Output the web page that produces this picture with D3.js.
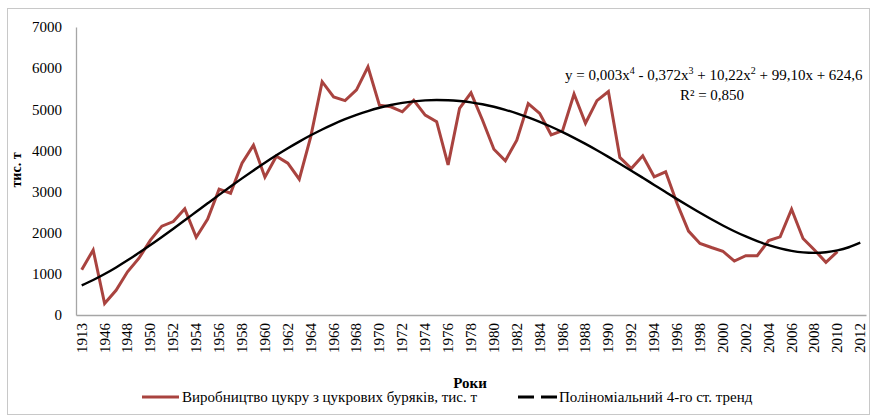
<!DOCTYPE html>
<html>
<head>
<meta charset="utf-8">
<script src="https://cdn.jsdelivr.net/npm/d3@7"></script>
<style>
  body { margin: 0; background: #fff; }
  svg text { font-family: "Liberation Serif", "Times New Roman", "DejaVu Serif", serif; fill: #000; }
</style>
</head>
<body>
<svg id="chart" width="875" height="419"></svg>
<script>
// categories: 1913, one pre-war year, then 1946..2012
var years = ["1913", "1940"];
for (var yy = 1946; yy <= 2012; yy++) years.push(String(yy));

// sugar production from sugar beet, thousand t (1913 .. 2010)
var sugar = [1100, 1580, 280, 600, 1050, 1380, 1820, 2160, 2270, 2580,
             1890, 2330, 3060, 2960, 3690, 4130, 3350, 3860, 3690, 3300,
             4330, 5670, 5300, 5210, 5470, 6030, 5100, 5060, 4940, 5220,
             4860, 4700, 3650, 5020, 5400, 4740, 4030, 3750, 4250, 5140,
             4900, 4380, 4480, 5370, 4660, 5210, 5430, 3830, 3560, 3870,
             3360, 3480, 2710, 2040, 1740, 1640, 1550, 1310, 1440, 1440,
             1810, 1900, 2570, 1860, 1580, 1280, 1540];

var yTicks = [0, 1000, 2000, 3000, 4000, 5000, 6000, 7000];
var xLabels = years.filter(function(d, i) { return i % 2 == 0; });

var lineColor = "#a9433f";
var serif = '"Liberation Serif", "Times New Roman", "DejaVu Serif", serif';

var svg = d3.select("#chart");
var plotL = 76, plotR = 866, plotT = 27, plotB = 315;

// frame round the chart
svg.append("rect")
  .attr("x", 7.5).attr("y", 8.5)
  .attr("width", 862).attr("height", 406)
  .attr("fill", "none")
  .attr("stroke", "#c8c8c8");

var x = d3.scaleBand().domain(years).range([plotL, plotR]).padding(0);
var y = d3.scaleLinear().domain([0, 7000]).range([plotB, plotT]);
function cx(d) { return x(d) + x.bandwidth() / 2; }

// y axis
var yAxis = svg.append("g")
  .attr("transform", "translate(" + plotL + ",0)")
  .call(d3.axisLeft(y).tickValues(yTicks).tickFormat(d3.format("d"))
        .tickSize(0).tickPadding(14));
yAxis.attr("font-family", null);
yAxis.select(".domain").attr("stroke", "#a6a6a6").attr("stroke-width", 1.3);
yAxis.selectAll("text")
  .style("font-family", serif).style("font-size", "15px");

// x axis
var xAxis = svg.append("g")
  .attr("transform", "translate(0," + plotB + ")")
  .call(d3.axisBottom(x).tickValues(xLabels).tickSize(0).tickPadding(0));
xAxis.attr("font-family", null);
xAxis.select(".domain").attr("stroke", "#a6a6a6").attr("stroke-width", 1.3);
xAxis.selectAll("text")
  .style("font-family", serif).style("font-size", "15px")
  .attr("text-anchor", "end")
  .attr("transform", "rotate(-90)")
  .attr("x", -8).attr("y", 0).attr("dy", "0.33em");

// axis titles
svg.append("text")
  .attr("transform", "translate(21,170) rotate(-90)")
  .attr("text-anchor", "middle")
  .style("font-family", serif)
  .style("font-size", "14px").style("font-weight", "bold")
  .text("тис. т");

svg.append("text")
  .attr("x", 470).attr("y", 388)
  .attr("text-anchor", "middle")
  .style("font-family", serif)
  .style("font-size", "15px").style("font-weight", "bold")
  .text("Роки");

// 4th degree polynomial trend by least squares (x = 1..n, as in Excel)
function polyFit(vals, deg) {
  var n = vals.length, mid = (n + 1) / 2, sc = (n - 1) / 2;
  var m = deg + 1, A = [], b = [];
  for (var r = 0; r < m; r++) { A.push(new Array(m).fill(0)); b.push(0); }
  vals.forEach(function(v, i) {
    var t = (i + 1 - mid) / sc;
    for (var r = 0; r < m; r++) {
      b[r] += v * Math.pow(t, r);
      for (var c = 0; c < m; c++) A[r][c] += Math.pow(t, r + c);
    }
  });
  for (var k = 0; k < m; k++) {
    for (var r = k + 1; r < m; r++) {
      var f = A[r][k] / A[k][k];
      for (var c = k; c < m; c++) A[r][c] -= f * A[k][c];
      b[r] -= f * b[k];
    }
  }
  var coef = new Array(m).fill(0);
  for (var r = m - 1; r >= 0; r--) {
    var s = b[r];
    for (var c = r + 1; c < m; c++) s -= A[r][c] * coef[c];
    coef[r] = s / A[r][r];
  }
  return function(xv) {
    var t = (xv - mid) / sc, s = 0;
    for (var r = 0; r < m; r++) s += coef[r] * Math.pow(t, r);
    return s;
  };
}
var trendFn = polyFit(sugar, 4);
var trend = years.map(function(d, i) { return { year: d, v: trendFn(i + 1) }; });

var dataPts = sugar.map(function(v, i) { return { year: years[i], v: v }; });

var line = d3.line()
  .x(function(d) { return cx(d.year); })
  .y(function(d) { return y(d.v); });

svg.append("path")
  .datum(dataPts)
  .attr("d", line)
  .attr("fill", "none")
  .attr("stroke", lineColor)
  .attr("stroke-width", 3)
  .attr("stroke-linejoin", "miter");

svg.append("path")
  .datum(trend)
  .attr("d", line.curve(d3.curveMonotoneX))
  .attr("fill", "none")
  .attr("stroke", "#000")
  .attr("stroke-width", 2.4);

// equation label
var eq = svg.append("text")
  .attr("x", 565).attr("y", 80)
  .style("font-family", serif)
  .style("font-size", "15px");
var parts = [["y = 0,003x", ""], ["4", "sup"], [" - 0,372x", ""], ["3", "sup"],
             [" + 10,22x", ""], ["2", "sup"], [" + 99,10x + 624,6", ""]];
parts.forEach(function(p) {
  var ts = eq.append("tspan").text(p[0]);
  if (p[1] == "sup") ts.attr("dy", -6).style("font-size", "10px");
  else ts.attr("dy", 6);
});
eq.select("tspan").attr("dy", 0);

svg.append("text")
  .attr("x", 712).attr("y", 100)
  .attr("text-anchor", "middle")
  .style("font-family", serif)
  .style("font-size", "15px")
  .text("R² = 0,850");

// legend
var lg = svg.append("g").attr("transform", "translate(0,397)");
lg.append("line")
  .attr("x1", 142).attr("x2", 179).attr("y1", 0).attr("y2", 0)
  .attr("stroke", lineColor).attr("stroke-width", 3);
lg.append("text")
  .attr("x", 182).attr("y", 0).attr("dy", "0.32em")
  .style("font-family", serif)
  .style("font-size", "15px")
  .text("Виробництво цукру з цукрових буряків, тис. т");
lg.append("line")
  .attr("x1", 518).attr("x2", 557).attr("y1", 0).attr("y2", 0)
  .attr("stroke", "#000").attr("stroke-width", 3)
  .attr("stroke-dasharray", "16,7");
lg.append("text")
  .attr("x", 559).attr("y", 0).attr("dy", "0.32em")
  .style("font-family", serif)
  .style("font-size", "15px")
  .text("Поліноміальний 4-го ст. тренд");
</script>
</body>
</html>
